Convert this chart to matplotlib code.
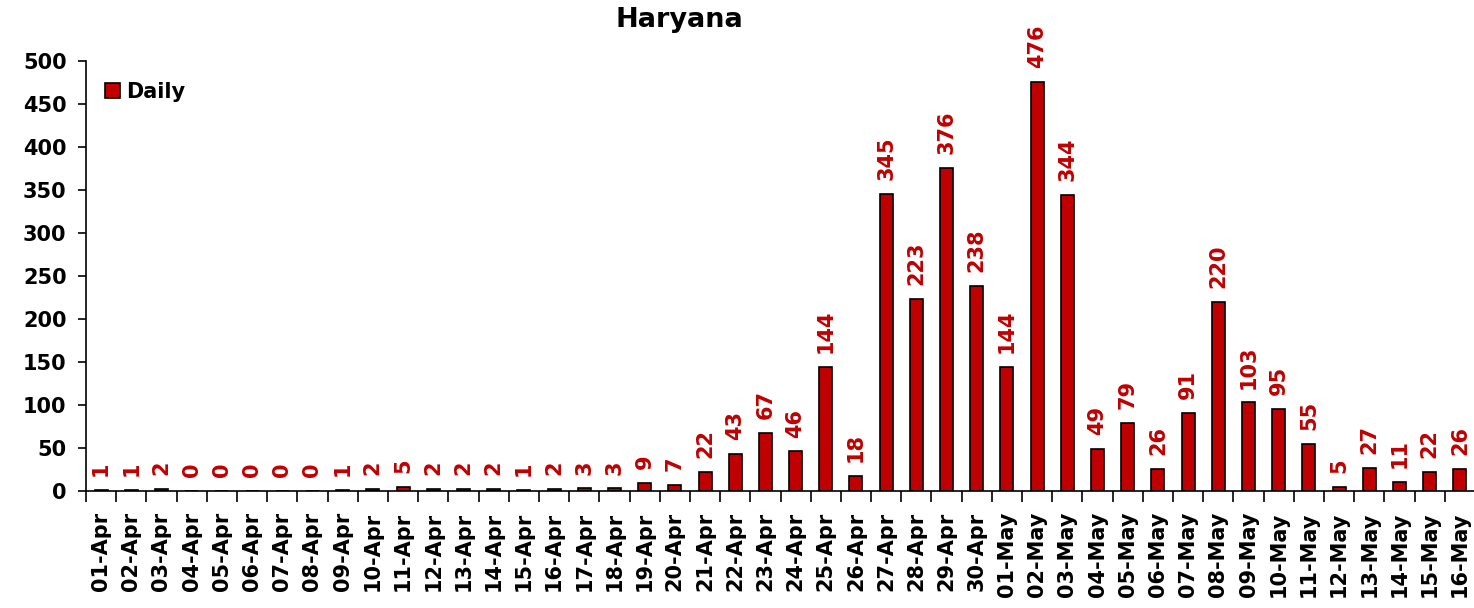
import numpy as np
import matplotlib
matplotlib.use("Agg")
import matplotlib.pyplot as plt

plt.rcParams['font.family'] = ['DejaVu Sans']
plt.rcParams['font.weight'] = 'bold'

apr_days = ["%02d-Apr" % d for d in range(1, 31)]
may_days = ["%02d-May" % d for d in range(1, 17)]
dates = apr_days + may_days

daily = [1, 1, 2, 0, 0, 0, 0, 0, 1, 2, 5, 2, 2, 2, 1, 2, 3, 3, 9, 7,
         22, 43, 67, 46, 144, 18, 345, 223, 376, 238,
         144, 476, 344, 49, 79, 26, 91, 220, 103, 95, 55, 5, 27, 11, 22, 26]

red = "#c00000"

fig = plt.figure(figsize=(14.74, 6.08), dpi=100)
ax = fig.add_axes([86 / 1474, 1 - 491 / 608, 1389 / 1474, 430 / 608])

x = np.arange(len(dates))
ax.bar(x, daily, width=0.43, color=red, edgecolor="black", linewidth=1.2, label="Daily")

for xi, v in zip(x, daily):
    ax.annotate(str(v), (xi, v), xytext=(0, 10), textcoords="offset points",
                rotation=90, ha="center", va="bottom",
                color=red, fontsize=15, fontweight="bold")

ax.set_xlim(-0.5, len(dates) - 0.5)
ax.set_ylim(0, 500)
ax.set_yticks(range(0, 501, 50))
ax.tick_params(axis="y", labelsize=15, direction="out", length=6, width=1.2, pad=8)

ax.set_xticks(x)
ax.set_xticklabels(dates, rotation=90, fontsize=15, fontweight="bold")
ax.tick_params(axis="x", length=0, pad=15)
ax.set_xticks(np.arange(-0.5, len(dates)), minor=True)
ax.tick_params(axis="x", which="minor", direction="out", length=8, width=1.2)

for s in ["top", "right"]:
    ax.spines[s].set_visible(False)
ax.spines["left"].set_linewidth(1.2)
ax.spines["bottom"].set_linewidth(1.2)

fig.text(679 / 1474, 1 - 20 / 608, "Haryana", ha="center", va="center",
         fontsize=19.5, fontweight="bold")
ax.legend(loc="upper left", bbox_to_anchor=(0.0, 0.995), frameon=False,
          fontsize=15, handlelength=0.75, handleheight=0.75, handletextpad=0.3)

fig.savefig("out.png", dpi=100)
